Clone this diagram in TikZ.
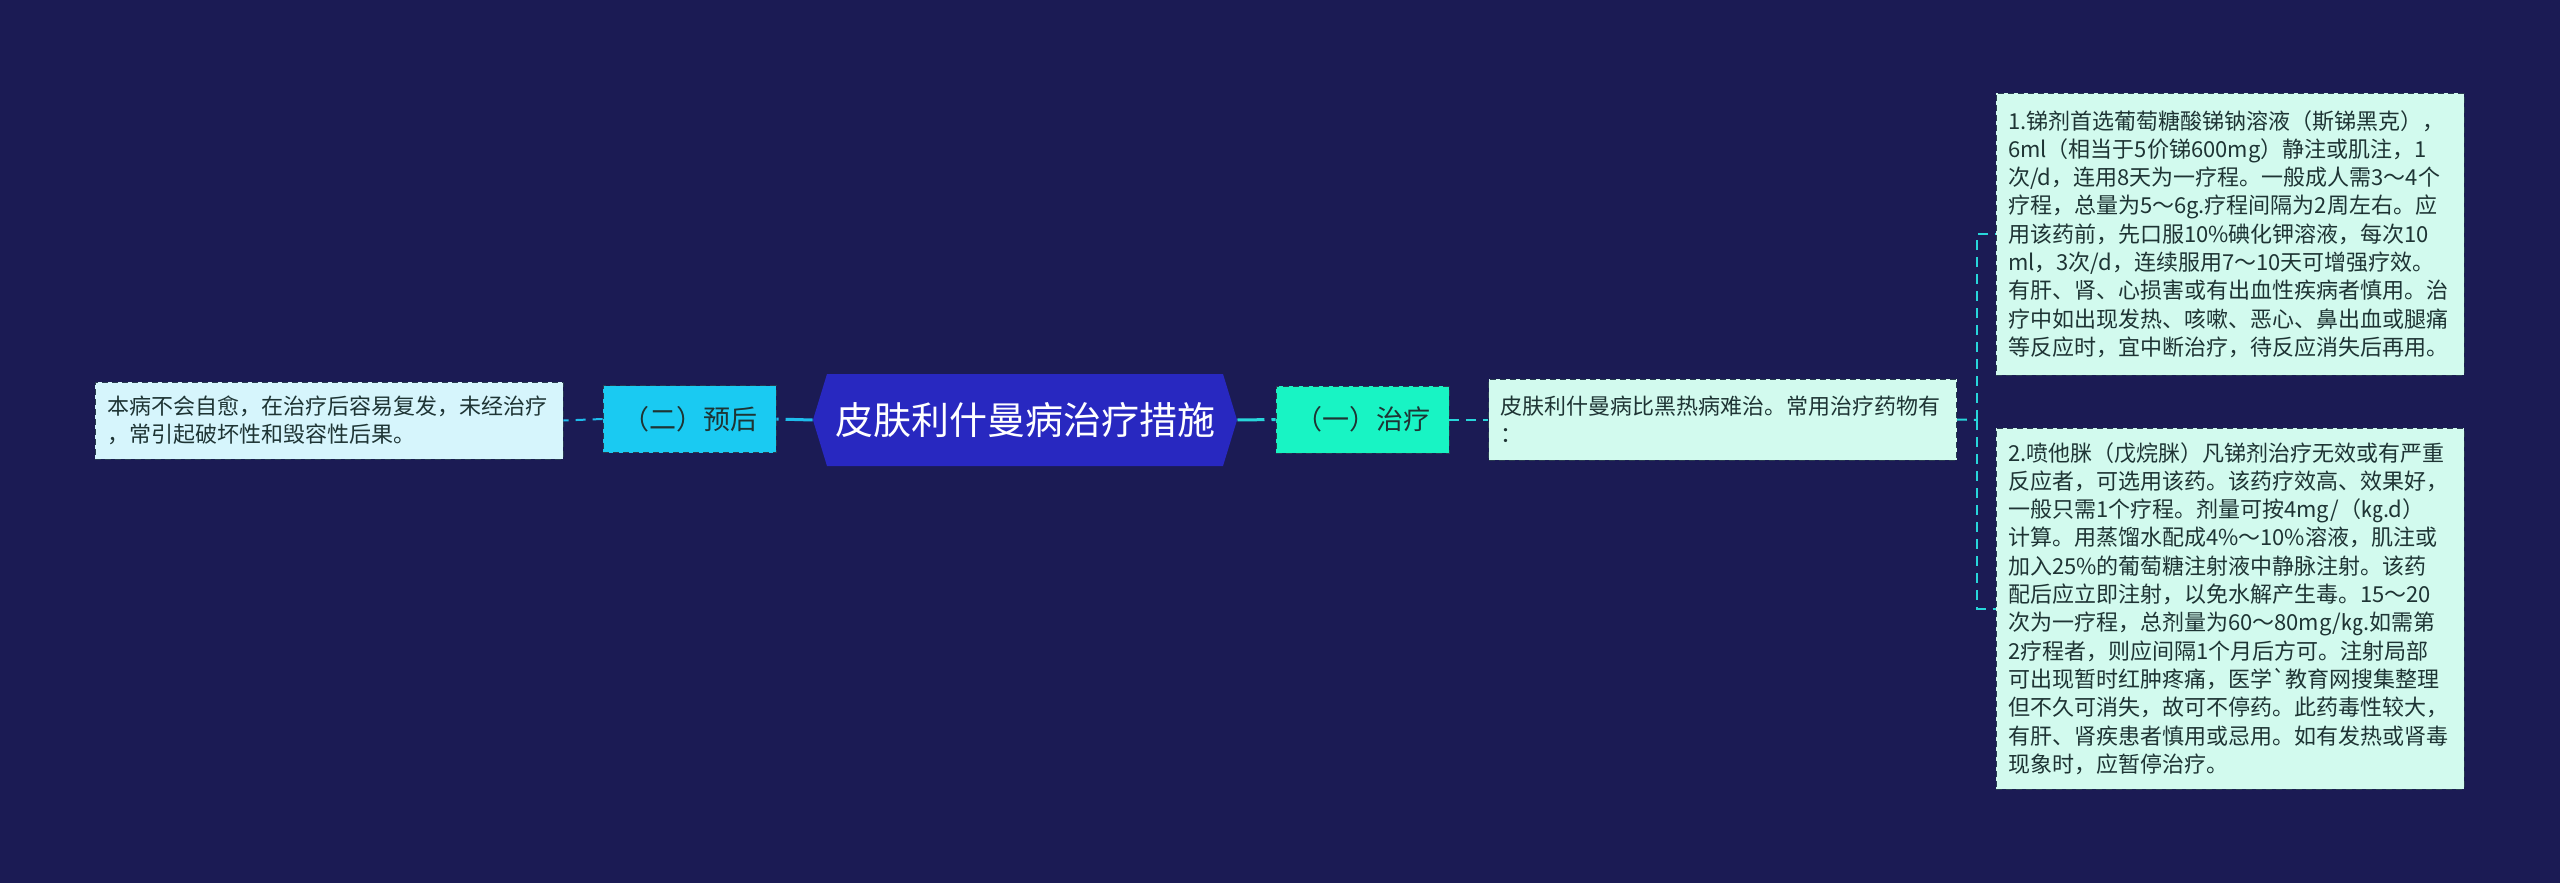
\documentclass[tikz,border=0pt]{standalone}
\usepackage{fontspec}
\setmainfont{Noto Sans CJK SC}
\usetikzlibrary{shapes.symbols}
\definecolor{bgnavy}{RGB}{27,27,84}
\definecolor{hubblue}{RGB}{40,40,192}
\definecolor{zlgreen}{RGB}{24,244,196}
\definecolor{yhcyan}{RGB}{26,202,242}
\definecolor{notecyan}{RGB}{214,245,252}
\definecolor{notemint}{RGB}{210,250,238}
\definecolor{boxedge}{RGB}{40,60,80}
\definecolor{inkdark}{RGB}{30,52,52}
\definecolor{lnkL}{RGB}{30,188,236}
\definecolor{lnkR}{RGB}{40,214,218}
\begin{document}
\begin{tikzpicture}[x=0.5pt, y=-0.5pt,
  hub/.style={signal, signal to=east and west, signal pointer angle=146,
    fill=hubblue, text=white, minimum height=46pt, minimum width=210pt,
    inner xsep=4pt, font=\fontsize{19pt}{22pt}\selectfont},
  branch/.style={draw=boxedge, dash pattern=on 3pt off 2pt, text=inkdark,
    minimum width=86.5pt, minimum height=33.5pt, inner sep=0pt,
    font=\fontsize{13.5pt}{16pt}\selectfont},
  note/.style={draw=boxedge, dash pattern=on 3pt off 2pt, text=inkdark,
    align=left, text width=222pt, inner xsep=6pt, inner ysep=0pt,
    font=\fontsize{11pt}{14.15pt}\selectfont},
  hublink/.style={draw=#1, line width=1.5pt, dash pattern=on 13.5pt off 3.5pt},
  link/.style={draw=#1, line width=1pt, dash pattern=on 5pt off 3.5pt}]
\useasboundingbox[fill=bgnavy] (0,0) rectangle (2560,883);

\node[hub] (hub) at (1025,420) {皮肤利什曼病治疗措施};
\node[branch, fill=zlgreen] (zl) at (1362.5,419.5) {（一）治疗};
\node[branch, fill=yhcyan] (yh) at (689.5,419) {（二）预后};

\node[note, fill=notecyan, minimum height=38.5pt] (yhtext) at (329,420.5)
  {本病不会自愈，在治疗后容易复发，未经治疗\\，常引起破坏性和毁容性后果。};
\node[note, fill=notemint, minimum height=40.5pt] (intro) at (1722.5,419.5)
  {皮肤利什曼病比黑热病难治。常用治疗药物有\\：};

\node[note, fill=notemint, minimum height=141pt] (drugA) at (2230,234)
  {1.锑剂首选葡萄糖酸锑钠溶液（斯锑黑克），\\
   6ml（相当于5价锑600mg）静注或肌注，1\\
   次/d，连用8天为一疗程。一般成人需3～4个\\
   疗程，总量为5～6g.疗程间隔为2周左右。应\\
   用该药前，先口服10\%碘化钾溶液，每次10\\
   ml，3次/d，连续服用7～10天可增强疗效。\\
   有肝、肾、心损害或有出血性疾病者慎用。治\\
   疗中如出现发热、咳嗽、恶心、鼻出血或腿痛\\
   等反应时，宜中断治疗，待反应消失后再用。};
\node[note, fill=notemint, minimum height=180.5pt] (drugB) at (2230,608.5)
  {2.喷他脒（戊烷脒）凡锑剂治疗无效或有严重\\
   反应者，可选用该药。该药疗效高、效果好，\\
   一般只需1个疗程。剂量可按4mg/（㎏.d）\\
   计算。用蒸馏水配成4\%～10\%溶液，肌注或\\
   加入25\%的葡萄糖注射液中静脉注射。该药\\
   配后应立即注射，以免水解产生毒。15～20\\
   次为一疗程，总剂量为60～80mg/㎏.如需第\\
   2疗程者，则应间隔1个月后方可。注射局部\\
   可出现暂时红肿疼痛，医学\textasciigrave{}教育网搜集整理\\
   但不久可消失，故可不停药。此药毒性较大，\\
   有肝、肾疾患者慎用或忌用。如有发热或肾毒\\
   现象时，应暂停治疗。};

\coordinate (fork) at (1977,420);

\draw[hublink=lnkR] (hub.east) -- (zl.west);
\draw[hublink=lnkL] (hub.west) -- (yh.east);
\draw[link=lnkR] (zl.east) -- (intro.west);
\draw[link=lnkL] (yh.west) -- (yhtext.east);
\draw[link=lnkR] (intro.east) -- (fork);
\draw[link=lnkR] (fork) |- (drugA.west);
\draw[link=lnkR] (fork) |- (drugB.west);
\end{tikzpicture}
\end{document}
